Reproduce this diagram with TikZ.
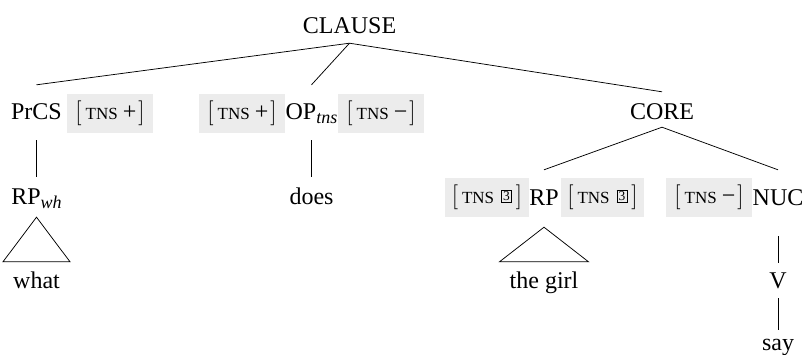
\documentclass[tikz,border=0pt]{standalone}
\usepackage{fontspec}
\setmainfont{Liberation Serif}

% feature matrix [TNS value]
\newcommand{\tnsfeat}[1]{\mbox{$[$}\hspace{4pt}{\fontsize{17}{17}\selectfont TNS}\hspace{5pt}#1\hspace{2pt}\mbox{$]$}}
% boxed index tag
\newcommand{\tagbox}[1]{\hspace{2pt}\raisebox{3pt}{\setlength{\fboxsep}{1.4pt}\setlength{\fboxrule}{0.6pt}\fbox{\fontsize{13.5}{13.5}\selectfont #1}}\hspace{2pt}}
% italic subscript on a category label
\newcommand{\subit}[1]{\raisebox{-4pt}{\fontsize{18}{18}\selectfont\itshape #1}}

\tikzset{
  lbl/.style={anchor=base, inner sep=0pt, font=\fontsize{24}{28}\selectfont},
  feat/.style={fill=gray!15, minimum width=86pt, minimum height=39pt, inner sep=0pt,
               font=\fontsize{24}{28}\selectfont},
  edge/.style={line width=0.75pt}
}

\begin{document}
\begin{tikzpicture}[x=1pt, y=-1pt]
\useasboundingbox (0,0) rectangle (806,354);

% category labels
\node[lbl, text depth=10pt] (clause) at (349.5,33) {CLAUSE};
\node[lbl, text height=34pt, text depth=21pt] (prcs) at (36.5,119) {PrCS};
\node[lbl, text height=34pt, text depth=21pt] (op) at (311.5,119) {OP\subit{tns}};
\node[lbl, text height=27pt, text depth=8pt] (core) at (662,119) {CORE};
\node[lbl, text height=27pt, text depth=13pt] (rpwh) at (36.5,204) {RP\subit{wh}};
\node[lbl, text height=27pt] (does) at (311.5,204) {does};
\node[lbl, text height=35pt, text depth=22pt] (rp) at (544,205) {RP};
\node[lbl, text height=35pt, text depth=31pt] (nuc) at (778,205) {NUC};
\node[lbl, text height=26pt, inner xsep=10pt] (what) at (36.5,288) {what};
\node[lbl, text height=26pt, inner xsep=10pt] (girl) at (544,288) {the girl};
\node[lbl, text height=25pt, text depth=10pt] (v) at (778,288) {V};
\node[lbl, text height=20pt] (say) at (778,350) {say};

% tense feature annotations
\node[feat] (prcsF) at (110,113.5) {\tnsfeat{+}};
\node[feat] (opL) at (242,113.5) {\tnsfeat{+}};
\node[feat] (opR) at (381,113.5) {\tnsfeat{−}};
\node[feat, minimum width=84pt] (rpL) at (487,197.5) {\tnsfeat{\tagbox{3}}};
\node[feat, minimum width=83pt] (rpR) at (602.5,197.5) {\tnsfeat{\tagbox{3}}};
\node[feat] (nucL) at (709,197.5) {\tnsfeat{−}};

% branches
\draw[edge] (clause.south) -- (prcs.north);
\draw[edge] (clause.south) -- (op.north);
\draw[edge] (clause.south) -- (core.north);
\draw[edge] (prcs.south) -- (rpwh.north);
\draw[edge] (op.south) -- (does.north);
\draw[edge] (core.south) -- (rp.north);
\draw[edge] (core.south) -- (nuc.north);
\draw[edge] (nuc.south) -- (v.north);
\draw[edge] (v.south) -- (say.north);

% triangles over unanalysed phrases
\draw[edge] (rpwh.south) -- (what.north west) -- (what.north east) -- cycle;
\draw[edge] (rp.south) -- (girl.north west) -- (girl.north east) -- cycle;
\end{tikzpicture}
\end{document}
